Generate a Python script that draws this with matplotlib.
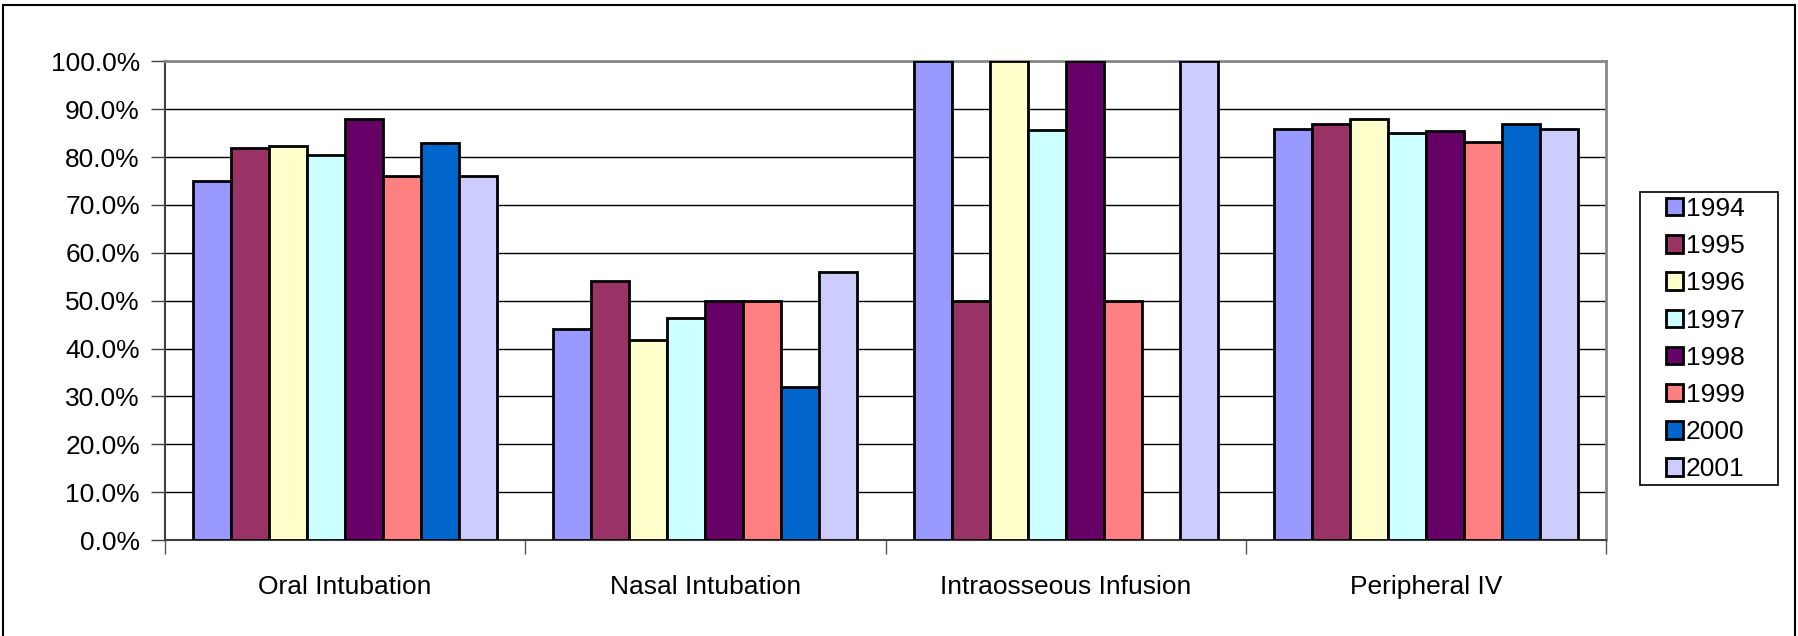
import numpy as np
import matplotlib.pyplot as plt
from matplotlib.patches import Rectangle

plt.rcParams['font.family'] = ['Liberation Sans', 'DejaVu Sans']

#-----
# data (percent)
categories = ['Oral Intubation', 'Nasal Intubation', 'Intraosseous Infusion', 'Peripheral IV']
years = ['1994', '1995', '1996', '1997', '1998', '1999', '2000', '2001']
v1994 = [75.0, 44.0, 100.0, 85.9]
v1995 = [81.8, 54.1, 50.0, 86.8]
v1996 = [82.3, 41.8, 100.0, 87.9]
v1997 = [80.4, 46.4, 85.7, 85.1]
v1998 = [87.9, 50.0, 100.0, 85.4]
v1999 = [76.0, 50.0, 50.0, 83.1]
v2000 = [83.0, 32.0, np.nan, 87.0]
v2001 = [76.0, 55.9, 100.0, 85.9]
yticks = [0, 10, 20, 30, 40, 50, 60, 70, 80, 90, 100]
#-----

series = [v1994, v1995, v1996, v1997, v1998, v1999, v2000, v2001]
colors = ['#9999FF', '#993366', '#FFFFCC', '#CCFFFF', '#660066', '#FF8080', '#0066CC', '#CCCCFF']
fs = 19

W, H = 1798, 636
fig = plt.figure(figsize=(W/100, H/100), dpi=100)
ax = fig.add_axes([165/W, 1-540/H, (1606-165)/W, (540-61.3)/H])

x = np.arange(len(categories))
w = 38/360
for i in range(len(series)):
    ax.bar(x + (i-3.5)*w, series[i], w, color=colors[i], edgecolor='black',
           linewidth=2, label=years[i], zorder=3)

ax.set_xlim(-0.5, 3.5)
ax.set_ylim(0, 100)
ax.set_yticks(yticks)
ax.set_yticklabels(['%.1f%%' % t for t in yticks], fontsize=fs)
ax.yaxis.grid(True, color='black', linewidth=1, zorder=0)
ax.set_axisbelow(True)

ax.set_xticks(x)
ax.set_xticklabels(categories, fontsize=fs)
ax.set_xticks(np.arange(-0.5, 4, 1), minor=True)
ax.tick_params(axis='x', which='major', length=0, pad=25)
ax.tick_params(axis='x', which='minor', length=10, width=1, color='#555555')
ax.tick_params(axis='y', length=10, width=1, color='#404040', pad=8)

for s in ['top', 'right']:
    ax.spines[s].set_color('#888888')
    ax.spines[s].set_linewidth(2)
for s in ['left', 'bottom']:
    ax.spines[s].set_color('#404040')
    ax.spines[s].set_linewidth(1.5)

# legend, frame drawn separately
leg = fig.legend(loc='upper left', bbox_to_anchor=(1666/W, 1-197/H),
                 fontsize=fs, frameon=False,
                 handlelength=0.64, handleheight=0.64, handletextpad=0.12,
                 labelspacing=0.5, borderpad=0, borderaxespad=0)
for h in leg.legend_handles:
    h.set_linewidth(2)
fig.patches.append(Rectangle((1640/W, 1-485/H), 138/W, 293/H, transform=fig.transFigure,
                             fill=False, edgecolor='black', linewidth=1.2))

# outer chart border
fig.patches.append(Rectangle((3/W, -0.01), 1792/W, 1.01-5/H, transform=fig.transFigure,
                             fill=False, edgecolor='black', linewidth=1.5))

plt.savefig('out.png', dpi=100)
